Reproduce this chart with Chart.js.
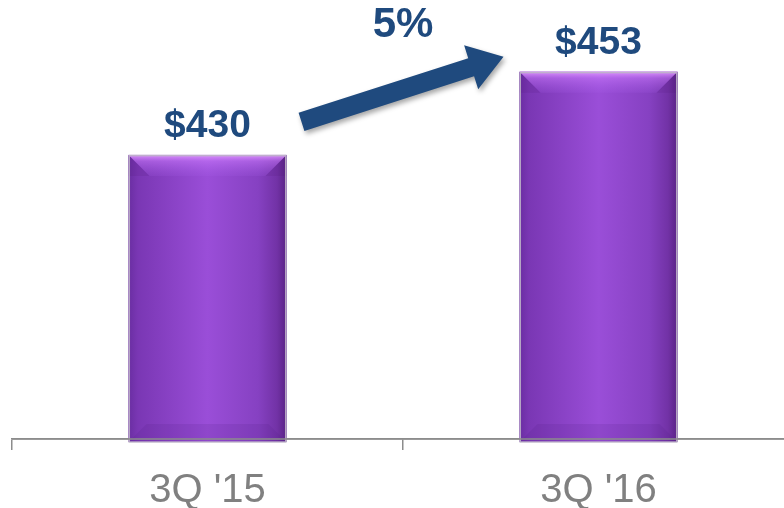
<!DOCTYPE html>
<html>
<head>
<meta charset="utf-8">
<script src="https://cdn.jsdelivr.net/npm/chart.js@4.4.1/dist/chart.umd.min.js"></script>
<style>
html,body{margin:0;padding:0;background:#fff;overflow:hidden;}
#wrap{width:800px;height:508px;}
</style>
</head>
<body>
<div id="wrap"><canvas id="c" width="800" height="508"></canvas></div>
<script>
const categories = ["3Q '15", "3Q '16"];
const values = [430, 453];
const valueLabels = ["$430", "$453"];
const growthLabel = "5%";
const yMin = 351.3;
const yMax = 472.9;

const BLUE = '#1f4a7e';

const overlayPlugin = {
  id: 'overlay',
  afterDatasetsDraw(chart) {
    const ctx = chart.ctx;
    const meta = chart.getDatasetMeta(0);
    const bars = meta.data;
    const area = chart.chartArea;
    bars.forEach((bar, i) => {
      const p = bar.getProps(['x','y','base','width'], true);
      const L = p.x - p.width/2, R = p.x + p.width/2, T = p.y, B = Math.min(p.base, area.bottom) + 3;
      const w = R - L;
      ctx.save();
      // body gradient
      const g = ctx.createLinearGradient(L, 0, R, 0);
      g.addColorStop(0, '#6a2ea2');
      g.addColorStop(0.06, '#7a37b4');
      g.addColorStop(0.5, '#9a4ed8');
      g.addColorStop(0.82, '#8641c2');
      g.addColorStop(0.94, '#7232a6');
      g.addColorStop(1, '#5a2386');
      ctx.fillStyle = g;
      ctx.fillRect(L, T, w, B - T);
      // top bevel
      const b = 21;
      const tg = ctx.createLinearGradient(0, T, 0, T + b);
      tg.addColorStop(0, 'rgba(225,150,255,0.95)');
      tg.addColorStop(0.3, 'rgba(200,120,250,0.55)');
      tg.addColorStop(1, 'rgba(170,95,235,0.15)');
      ctx.beginPath();
      ctx.moveTo(L, T); ctx.lineTo(R, T); ctx.lineTo(R - b, T + b); ctx.lineTo(L + b, T + b); ctx.closePath();
      ctx.fillStyle = tg; ctx.fill();
      // side triangles at top (darker)
      ctx.fillStyle = 'rgba(70,20,110,0.12)';
      ctx.beginPath(); ctx.moveTo(L, T); ctx.lineTo(L + b, T + b); ctx.lineTo(L, T + b); ctx.closePath(); ctx.fill();
      ctx.beginPath(); ctx.moveTo(R, T); ctx.lineTo(R - b, T + b); ctx.lineTo(R, T + b); ctx.closePath(); ctx.fill();
      // bottom bevel
      const bb = 18;
      ctx.beginPath();
      ctx.moveTo(L, B); ctx.lineTo(R, B); ctx.lineTo(R - bb, B - bb); ctx.lineTo(L + bb, B - bb); ctx.closePath();
      ctx.fillStyle = 'rgba(80,25,130,0.14)'; ctx.fill();
      // border
      ctx.strokeStyle = 'rgba(190,180,200,0.9)';
      ctx.lineWidth = 1.5;
      ctx.strokeRect(L + 0.75, T + 0.75, w - 1.5, B - T - 0.75);
      ctx.restore();

      // value label
      ctx.save();
      ctx.font = 'bold 39px "Liberation Sans", Arial, sans-serif';
      ctx.fillStyle = BLUE;
      ctx.textAlign = 'center';
      ctx.textBaseline = 'alphabetic';
      ctx.fillText(valueLabels[i], p.x, T - 18);
      ctx.restore();
    });

    // redraw axis line over bars
    const xs = chart.scales.x;
    ctx.save();
    ctx.strokeStyle = '#8c8c8c';
    ctx.lineWidth = 1.5;
    ctx.beginPath();
    ctx.moveTo(xs.left, xs.top); ctx.lineTo(xs.right, xs.top);
    ctx.stroke();
    ctx.restore();

    // growth arrow
    if (bars.length >= 2) {
      const b1 = bars[0].getProps(['x','y','width'], true);
      const b2 = bars[1].getProps(['x','y','width'], true);
      const tx = b1.x + b1.width/2 + 15, ty = b1.y - 33;
      const hx = b2.x - b2.width/2 - 16, hy = b2.y - 15;
      const ang = Math.atan2(hy - ty, hx - tx);
      const len = Math.hypot(hx - tx, hy - ty);
      const sw = 19, headL = 34, headW = 46;
      ctx.save();
      ctx.translate(tx, ty);
      ctx.rotate(ang);
      ctx.shadowColor = 'rgba(0,0,0,0.35)';
      ctx.shadowBlur = 5;
      ctx.shadowOffsetX = 2;
      ctx.shadowOffsetY = 3;
      ctx.beginPath();
      ctx.moveTo(0, -sw/2);
      ctx.lineTo(len - headL, -sw/2);
      ctx.lineTo(len - headL, -headW/2);
      ctx.lineTo(len, 0);
      ctx.lineTo(len - headL, headW/2);
      ctx.lineTo(len - headL, sw/2);
      ctx.lineTo(0, sw/2);
      ctx.closePath();
      ctx.fillStyle = BLUE;
      ctx.fill();
      ctx.restore();

      ctx.save();
      ctx.font = 'bold 42px "Liberation Sans", Arial, sans-serif';
      ctx.fillStyle = BLUE;
      ctx.textAlign = 'center';
      ctx.textBaseline = 'alphabetic';
      ctx.fillText(growthLabel, (b1.x + b2.x)/2, b2.y - 35);
      ctx.restore();
    }
  }
};

new Chart(document.getElementById('c'), {
  type: 'bar',
  data: {
    labels: categories,
    datasets: [{
      data: values,
      base: yMin,
      backgroundColor: '#8a45c8',
      borderWidth: 0,
      barPercentage: 1,
      categoryPercentage: 0.404
    }]
  },
  options: {
    responsive: false,
    animation: false,
    devicePixelRatio: 1,
    layout: { padding: { left: 12, right: 6, top: 0, bottom: 0 } },
    plugins: { legend: { display: false }, tooltip: { enabled: false } },
    scales: {
      y: {
        display: false,
        min: yMin,
        max: yMax
      },
      x: {
        offset: true,
        border: { display: true, color: '#8c8c8c', width: 1.5 },
        grid: {
          offset: true,
          drawOnChartArea: false,
          drawTicks: true,
          tickLength: 11,
          color: '#8c8c8c',
          lineWidth: 1.5
        },
        ticks: {
          color: '#808080',
          font: { family: '"Liberation Sans", Arial, sans-serif', size: 40 },
          padding: 17,
          maxRotation: 0
        },
        afterFit(scale) { scale.height = 69; }
      }
    }
  },
  plugins: [overlayPlugin]
});
</script>
</body>
</html>
